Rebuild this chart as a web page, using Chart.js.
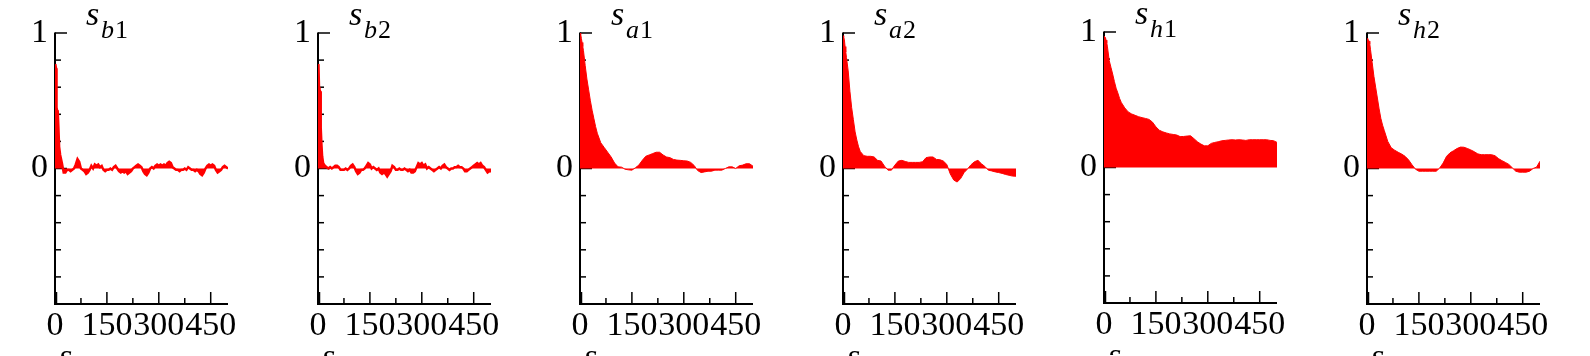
<!DOCTYPE html>
<html><head><meta charset="utf-8">
<script src="https://cdn.jsdelivr.net/npm/chart.js@4.4.1/dist/chart.umd.min.js"></script>
<style>
html,body{margin:0;padding:0;background:#fff;}
#wrap{position:relative;width:1590px;height:356px;overflow:hidden;background:#fff;}
#wrap canvas{position:absolute;}
</style></head><body><div id="wrap"></div>
<script>
// ---------- data ----------
const lagsNoisy = [0,1,2,3,4,5,6,8,10,12,15,
  20,25,30,35,40,45,50,55,60,65,70,75,80,85,90,95,100,105,110,115,120,125,130,135,140,145,150,155,160,165,
  170,175,180,185,190,195,200,205,210,215,220,225,230,235,240,245,250,255,260,265,270,275,280,285,290,295,
  300,305,310,315,320,325,330,335,340,345,350,355,360,365,370,375,380,385,390,395,400,405,410,415,420,425,
  430,435,440,445,450,455,460,465,470,475,480,485,490,495,500];
const lagsSmooth = [0,2,4,6,8,10,15,20,25,30,35,40,45,50,
  60,70,80,90,100,110,120,130,140,150,160,170,180,190,200,210,220,230,240,250,
  260,270,280,290,300,310,320,330,340,350,360,370,380,390,400,410,420,430,440,450,
  460,470,480,490,500];

const sb1 = [0.77,0.77,0.76,0.74,0.60,0.45,0.43,0.42,0.30,0.16,0.10,
  0.04,-0.03,-0.03,-0.01,-0.01,-0.02,-0.01,0.00,0.03,0.07,
  0.05,0.00,-0.01,-0.02,-0.04,-0.03,-0.01,0.02,0.00,0.03,
  0.02,0.03,0.01,0.02,-0.01,-0.02,-0.01,-0.01,0.00,-0.01,
  0.01,0.02,0.00,-0.02,-0.03,-0.02,-0.03,-0.02,-0.04,-0.03,
  -0.02,0.00,0.01,0.02,0.03,0.02,0.01,-0.02,-0.04,-0.05,
  -0.03,0.00,0.01,0.00,0.02,0.03,0.02,0.03,0.02,0.03,
  0.02,0.04,0.05,0.04,0.01,0.00,-0.01,-0.01,-0.02,-0.01,
  -0.01,0.00,-0.01,0.01,0.00,-0.01,-0.01,-0.02,-0.01,-0.02,
  -0.04,-0.05,-0.03,0.00,0.02,0.03,0.02,0.03,0.02,-0.01,
  -0.03,-0.02,-0.01,0.01,0.02,0.01,0.00];
const sb2 = [0.77,0.77,0.76,0.60,0.58,0.58,0.57,0.30,0.18,0.09,0.04,
  0.02,0.01,0.00,0.01,0.00,0.01,0.02,0.02,0.01,-0.01,
  -0.01,-0.01,0.00,-0.01,0.00,0.02,0.03,0.01,-0.02,-0.04,
  -0.03,-0.01,-0.01,0.00,0.02,0.04,0.03,0.00,0.01,0.00,
  -0.01,0.00,-0.03,-0.04,-0.03,-0.04,-0.06,-0.04,-0.02,0.02,
  0.01,-0.01,-0.01,0.00,-0.01,-0.01,0.00,-0.01,-0.02,-0.01,
  -0.03,-0.03,-0.02,0.01,0.04,0.03,0.04,0.02,0.03,0.00,
  0.01,0.00,-0.01,-0.02,-0.01,0.00,0.01,0.00,0.02,0.03,
  0.01,0.00,-0.01,0.00,0.00,0.01,0.01,0.02,0.01,0.01,
  0.00,-0.02,-0.02,-0.01,0.00,0.01,0.02,0.03,0.04,0.03,
  0.04,0.02,0.01,-0.01,-0.03,-0.02,-0.02];
const sa1 = [1.00,0.99,0.96,0.93,0.90,0.87,0.76,0.66,0.58,0.50,0.43,0.37,0.31,0.26,
  0.19,0.155,0.12,0.085,0.04,0.012,0.01,-0.005,-0.01,-0.012,
  0.005,0.025,0.06,0.09,0.10,0.11,0.12,0.12,0.10,0.085,
  0.08,0.067,0.062,0.06,0.057,0.055,0.045,0.022,-0.015,-0.03,
  -0.025,-0.02,-0.02,-0.012,-0.012,-0.012,0.00,0.012,0.012,0.00,
  0.02,0.025,0.035,0.035,0.017];
const sa2 = [0.98,0.97,0.95,0.90,0.86,0.82,0.72,0.57,0.45,0.36,0.27,0.21,0.16,0.125,
  0.095,0.09,0.09,0.085,0.06,0.055,0.017,-0.012,-0.012,0.025,
  0.055,0.06,0.052,0.045,0.045,0.045,0.045,0.05,0.08,0.085,
  0.085,0.067,0.065,0.055,0.03,-0.04,-0.085,-0.10,-0.074,-0.03,
  -0.003,0.028,0.05,0.06,0.035,0.015,-0.012,-0.018,-0.025,-0.03,
  -0.036,-0.044,-0.05,-0.056,-0.057];
const sh1 = [0.97,0.97,0.96,0.94,0.92,0.89,0.79,0.74,0.69,0.635,0.585,0.55,0.51,0.48,
  0.44,0.41,0.395,0.385,0.375,0.368,0.362,0.355,0.335,0.30,
  0.275,0.263,0.255,0.248,0.244,0.24,0.228,0.229,0.232,0.234,
  0.213,0.19,0.173,0.16,0.16,0.178,0.185,0.19,0.197,0.20,
  0.203,0.205,0.203,0.205,0.203,0.20,0.205,0.205,0.205,0.205,
  0.205,0.205,0.20,0.198,0.185];
const sh2 = [0.96,0.95,0.95,0.94,0.92,0.88,0.78,0.68,0.60,0.52,0.44,0.37,0.32,0.28,
  0.20,0.153,0.135,0.12,0.107,0.09,0.064,0.028,-0.005,-0.02,
  -0.02,-0.02,-0.02,-0.02,-0.02,0.003,0.04,0.09,0.116,0.131,
  0.147,0.158,0.157,0.148,0.137,0.124,0.108,0.102,0.102,0.102,
  0.102,0.094,0.073,0.058,0.045,0.03,0.005,-0.02,-0.027,-0.027,
  -0.027,-0.02,0.00,0.01,0.054];

const subscripts = [['b','1'],['b','2'],['a','1'],['a','2'],['h','1'],['h','2']];
const xTickValues = [0,75,150,225,300,375,450];
const xLabelValues = [0,150,300,450];
const yTickValues = [-1,-0.8,-0.6,-0.4,-0.2,0,0.2,0.4,0.6,0.8,1];
const yLabelValues = [0,1];

// ---------- layout ----------
const panels = [
  {lags: lagsNoisy, vals: sb1, noisy: true},
  {lags: lagsNoisy, vals: sb2, noisy: true},
  {lags: lagsSmooth, vals: sa1, noisy: false},
  {lags: lagsSmooth, vals: sa2, noisy: false},
  {lags: lagsSmooth, vals: sh1, noisy: false},
  {lags: lagsSmooth, vals: sh2, noisy: false}
];
const axisX = [55, 318, 580, 843, 1104, 1367];
const topShift = [0, 0, 0, 0, -1, 0];
const SERIF = '"Liberation Serif", "Times New Roman", serif';

const axesPlugin = {
  id: 'axesTicks',
  beforeDatasetsDraw(chart) {
    const {ctx, chartArea: a, scales: {x, y}} = chart;
    ctx.save();
    ctx.strokeStyle = '#000';
    ctx.lineCap = 'butt';
    ctx.lineWidth = 1.5;
    yTickValues.forEach(v => {
      const py = y.getPixelForValue(v);
      const major = Math.abs(Math.abs(v) - 1) < 1e-9 || Math.abs(v) < 1e-9;
      const len = major ? 12 : 6;
      ctx.beginPath(); ctx.moveTo(a.left, py); ctx.lineTo(a.left + len, py); ctx.stroke();
    });
    xTickValues.forEach(v => {
      const px = x.getPixelForValue(v) + (v === 0 ? 1.5 : 0);
      const len = (v % 150 === 0) ? 12 : 6;
      ctx.beginPath(); ctx.moveTo(px, a.bottom); ctx.lineTo(px, a.bottom - len); ctx.stroke();
    });
    ctx.lineWidth = 2;
    ctx.beginPath(); ctx.moveTo(a.left, a.top - 0.5); ctx.lineTo(a.left, a.bottom + 1); ctx.stroke();
    ctx.beginPath(); ctx.moveTo(a.left - 1, a.bottom); ctx.lineTo(a.right, a.bottom); ctx.stroke();
    ctx.restore();
  },
  afterDraw(chart) {
    const {ctx, chartArea: a} = chart;
    const sub = chart.options.plugins.axesTicks.sub;
    ctx.save();
    ctx.fillStyle = '#000';
    ctx.textAlign = 'left';
    ctx.textBaseline = 'alphabetic';
    ctx.font = 'italic 34px ' + SERIF;
    ctx.fillText('s', a.left + 31, 25);
    ctx.font = 'italic 26px ' + SERIF;
    ctx.fillText(sub[0], a.left + 46, 38);
    const w = ctx.measureText(sub[0]).width;
    ctx.font = '26px ' + SERIF;
    ctx.fillText(sub[1], a.left + 46 + w + 1, 38);
    ctx.font = 'italic 34px ' + SERIF;
    ctx.fillText('s', a.left + 4, 367);
    ctx.restore();
  }
};

const wrap = document.getElementById('wrap');
panels.forEach((p, i) => {
  const cv = document.createElement('canvas');
  cv.width = 250; cv.height = 356;
  cv.style.width = '250px'; cv.style.height = '356px';
  cv.style.left = (axisX[i] - 55) + 'px';
  cv.style.top = topShift[i] + 'px';
  wrap.appendChild(cv);
  const pts = p.lags.map((l, k) => ({x: l, y: p.vals[k]}));
  new Chart(cv.getContext('2d'), {
    type: 'line',
    data: {datasets: [{
      data: pts,
      borderColor: '#ff0000',
      backgroundColor: '#ff0000',
      borderWidth: p.noisy ? 2.4 : 1,
      pointRadius: 0,
      tension: 0,
      fill: 'origin'
    }]},
    options: {
      responsive: false,
      animation: false,
      devicePixelRatio: 1,
      layout: {padding: {left: 0, right: 22, top: 33, bottom: 0}},
      plugins: {
        legend: {display: false},
        tooltip: {enabled: false},
        title: {display: false},
        axesTicks: {sub: subscripts[i]}
      },
      scales: {
        x: {
          type: 'linear', min: 0, max: 500, position: 'bottom',
          afterBuildTicks: s => { s.ticks = xTickValues.map(v => ({value: v})); },
          afterFit: s => { s.height = 52; },
          grid: {display: false, drawTicks: false},
          border: {display: false},
          ticks: {
            autoSkip: false, maxRotation: 0, minRotation: 0, padding: 2, color: '#000',
            font: {family: SERIF, size: 34},
            callback: v => xLabelValues.includes(v) ? String(v) : ''
          }
        },
        y: {
          type: 'linear', min: -1, max: 1, position: 'left',
          afterBuildTicks: s => { s.ticks = yTickValues.map(v => ({value: v})); },
          afterFit: s => { s.width = 55; },
          grid: {display: false, drawTicks: false},
          border: {display: false},
          ticks: {
            autoSkip: false, padding: 7, color: '#000',
            font: {family: SERIF, size: 34},
            callback: v => yLabelValues.some(u => Math.abs(u - v) < 1e-9) ? String(Math.round(v)) : ''
          }
        }
      }
    },
    plugins: [axesPlugin]
  });
});
</script>
</body></html>
